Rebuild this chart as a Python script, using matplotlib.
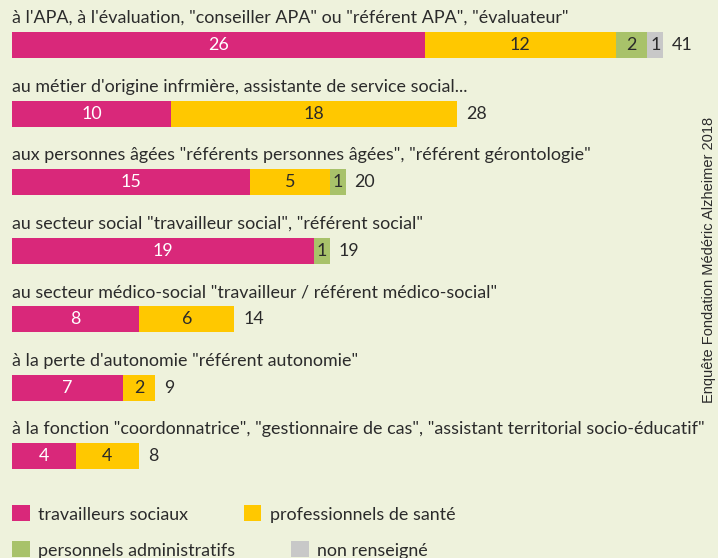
import matplotlib
matplotlib.use("Agg")
import matplotlib.pyplot as plt
from matplotlib.patches import Patch

categories = [
    "à l'APA, à l'évaluation, \"conseiller APA\" ou \"référent APA\", \"évaluateur\"",
    "au métier d'origine infrmière, assistante de service social...",
    "aux personnes âgées \"référents personnes âgées\", \"référent gérontologie\"",
    "au secteur social \"travailleur social\", \"référent social\"",
    "au secteur médico-social \"travailleur / référent médico-social\"",
    "à la perte d'autonomie \"référent autonomie\"",
    "à la fonction \"coordonnatrice\", \"gestionnaire de cas\", \"assistant territorial socio-éducatif\"",
]
series_names = ["travailleurs sociaux", "professionnels de santé",
                "personnels administratifs", "non renseigné"]
travailleurs_sociaux = [26, 10, 15, 19, 8, 7, 4]
professionnels_sante = [12, 18, 5, 0, 6, 2, 4]
personnels_admin = [2, 0, 1, 1, 0, 0, 0]
non_renseigne = [1, 0, 0, 0, 0, 0, 0]
totals = [41, 28, 20, 19, 14, 9, 8]
source = "Enquête Fondation Médéric Alzheimer 2018"

colors = ["#D9287A", "#FFC800", "#A8C26A", "#C8C8C8"]
text_colors = ["white", "#2b2b2b", "#2b2b2b", "#2b2b2b"]
bg = "#EEF2DC"
dark = "#2b2b2b"
font = ["Lato", "DejaVu Sans"]
fs = 12.9

W, H = 718, 558
fig = plt.figure(figsize=(W / 100, H / 100), dpi=100, facecolor=bg)
ax = fig.add_axes([0, 0, 1, 1])
ax.set_facecolor(bg)

px_per_unit = 413 / 26.0
x0 = 12
row0 = 45
row_step = 68.5
ax.set_xlim(-x0 / px_per_unit, (W - x0) / px_per_unit)
ax.set_ylim((H - row0) / row_step, -row0 / row_step)
ax.axis("off")

series = [travailleurs_sociaux, professionnels_sante, personnels_admin, non_renseigne]
bar_h = 26 / row_step
for i, cat in enumerate(categories):
    left = 0
    for s, vals in enumerate(series):
        v = vals[i]
        if v <= 0:
            continue
        ax.barh(i, v, left=left, height=bar_h, color=colors[s], edgecolor="none")
        ax.text(left + v / 2, i, str(v), ha="center", va="center",
                color=text_colors[s], fontsize=fs, family=font)
        left += v
    ax.text(left + 9 / px_per_unit, i, str(totals[i]), ha="left", va="center",
            color=dark, fontsize=fs, family=font)
    ax.text(0, i - 27 / row_step, cat, ha="left", va="center",
            color=dark, fontsize=fs, family=font)

# Legends (two rows, flowing)
handles = [Patch(facecolor=c, edgecolor="none") for c in colors]
leg_kw = dict(frameon=False, ncol=2, handlelength=1.0, handleheight=1.0,
              handletextpad=0.45, prop={"family": font, "size": fs},
              labelcolor=dark, borderaxespad=0, borderpad=0, columnspacing=3.1)
leg1 = fig.legend(handles[:2], series_names[:2], loc="center left",
                  bbox_to_anchor=(12 / W, 1 - 514 / H), **leg_kw)
leg2 = fig.legend(handles[2:], series_names[2:], loc="center left",
                  bbox_to_anchor=(12 / W, 1 - 550 / H), **leg_kw)

fig.text(709 / W, 1 - 260 / H, source, rotation=90, ha="center", va="center",
         color=dark, fontsize=10.5, family=["Liberation Sans", "DejaVu Sans"])

fig.savefig("out.png", dpi=100, facecolor=bg)
